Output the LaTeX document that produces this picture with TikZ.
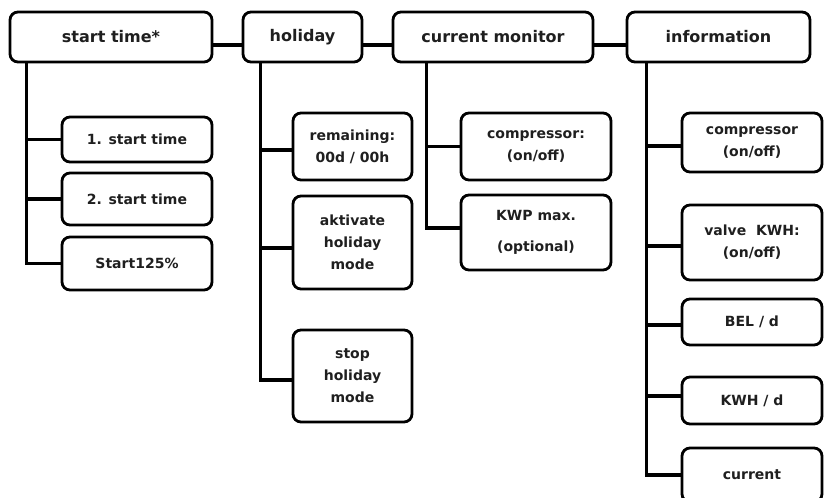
\documentclass[tikz,border=0pt]{standalone}
\usepackage{fontspec}
\setmainfont{DejaVu Sans}
\begin{document}
\begin{tikzpicture}[x=1pt,y=-1pt,
  box/.style={draw=black, line width=2.8pt, rounded corners=8pt, align=center,
    inner sep=0pt, text=black!88},
  topbox/.style={box, font={\bfseries\fontsize{16}{20}\selectfont}, minimum height=50pt},
  subbox/.style={box, font={\bfseries\fontsize{14}{22}\selectfont}},
  conn/.style={draw=black, line width=3.6pt}]
\useasboundingbox[fill=white] (0,0) rectangle (825,498);
% top row
\node[topbox, minimum width=202pt] (st)  at (111,37)   {start time*};
\node[topbox, minimum width=119pt] (hol) at (302.5,37) {holiday};
\node[topbox, minimum width=200pt] (cm)  at (493,37)   {current monitor};
\node[topbox, minimum width=183pt] (inf) at (718.5,37) {information};
% start time children
\node[subbox, minimum width=150pt, minimum height=45pt] (st1) at (137,139.5) {1. start time};
\node[subbox, minimum width=150pt, minimum height=52pt] (st2) at (137,199) {2. start time};
\node[subbox, minimum width=150pt, minimum height=53pt] (st3) at (137,263.5) {Start125\%};
% holiday children
\node[subbox, minimum width=119pt, minimum height=67pt] (rem)  at (352.5,146.5) {remaining:\\00d / 00h};
\node[subbox, minimum width=119pt, minimum height=93pt] (akt)  at (352.5,242.5) {aktivate\\holiday\\mode};
\node[subbox, minimum width=119pt, minimum height=92pt] (stop) at (352.5,376) {stop\\holiday\\mode};
% current monitor children
\node[subbox, minimum width=150pt, minimum height=67pt] (cmp1) at (536,146.5) {compressor:\\(on/off)};
\node[subbox, minimum width=150pt, minimum height=75pt] (kwp)  at (536,232.5) {KWP max.\\[9pt](optional)};
% information children
\node[subbox, minimum width=140pt, minimum height=59pt] (cmp2)  at (752,142.5) {compressor\\(on/off)};
\node[subbox, minimum width=140pt, minimum height=75pt] (valve) at (752,242.5) {valve~~KWH:\\(on/off)};
\node[subbox, minimum width=140pt, minimum height=46pt] (bel)   at (752,322) {BEL / d};
\node[subbox, minimum width=140pt, minimum height=47pt] (kwh)   at (752,400.5) {KWH / d};
\node[subbox, minimum width=140pt, minimum height=54pt] (cur)   at (752,475) {current};
% top row connectors
\draw[conn] ([yshift=-8pt]st.east) -- ([yshift=-8pt]hol.west);
\draw[conn] ([yshift=-8pt]hol.east) -- ([yshift=-8pt]cm.west);
\draw[conn] ([yshift=-8pt]cm.east) -- ([yshift=-8pt]inf.west);
% trunks and branches
\foreach \c in {st1,st2,st3}
  \draw[conn] ([xshift=18pt]st.south west) |- (\c.west);
\draw[conn] ([xshift=19pt]hol.south west) |- ([yshift=-3.5pt]rem.west);
\draw[conn] ([xshift=19pt]hol.south west) |- ([yshift=-5.5pt]akt.west);
\draw[conn] ([xshift=19pt]hol.south west) |- ([yshift=-4pt]stop.west);
\draw[conn] ([xshift=35pt]cm.south west) |- (cmp1.west);
\draw[conn] ([xshift=35pt]cm.south west) |- ([yshift=4.5pt]kwp.west);
\draw[conn] ([xshift=21pt]inf.south west) |- ([yshift=-3.5pt]cmp2.west);
\draw[conn] ([xshift=21pt]inf.south west) |- ([yshift=-3.5pt]valve.west);
\draw[conn] ([xshift=21pt]inf.south west) |- ([yshift=-3pt]bel.west);
\draw[conn] ([xshift=21pt]inf.south west) |- ([yshift=4.5pt]kwh.west);
\draw[conn] ([xshift=21pt]inf.south west) |- (cur.west);
\end{tikzpicture}
\end{document}
